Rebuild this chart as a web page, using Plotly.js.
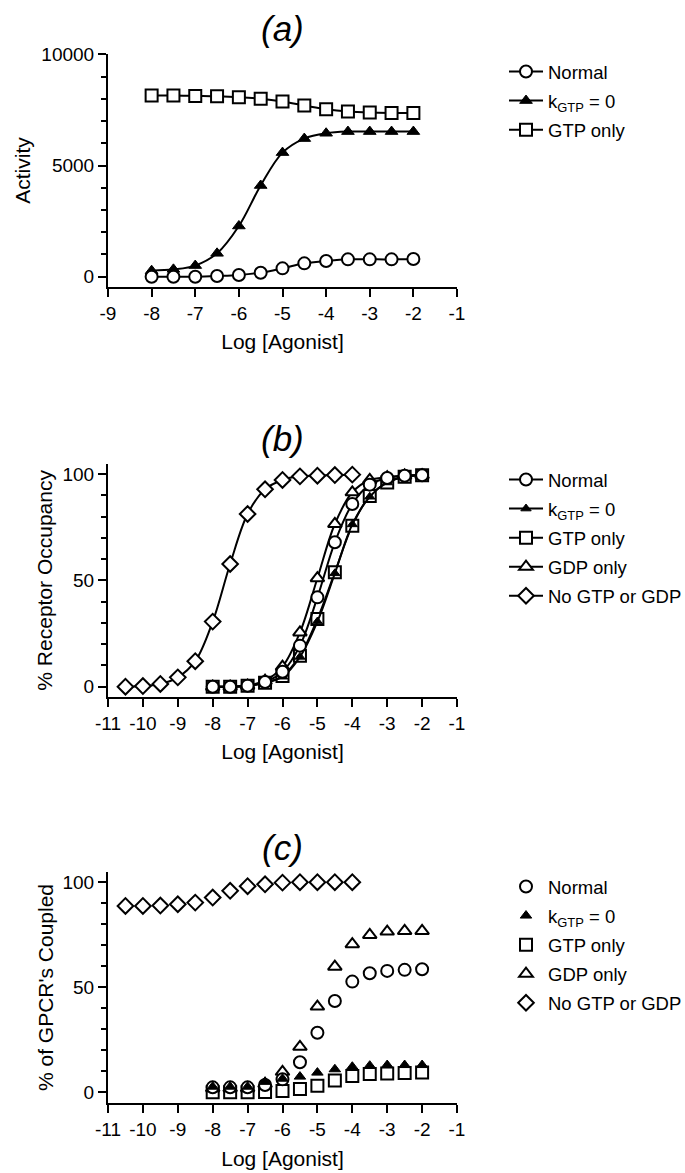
<!DOCTYPE html>
<html>
<head>
<meta charset="utf-8">
<script src="https://cdn.plot.ly/plotly-3.0.1.min.js"></script>
<style>html,body{margin:0;padding:0;background:#fff;}#chart{width:685px;height:1173px;}</style>
</head>
<body>
<div id="chart"></div>
<script>
// ---- Data ----
const xAgonist = [-8, -7.5, -7, -6.5, -6, -5.5, -5, -4.5, -4, -3.5, -3, -2.5, -2];
const xNoGtpGdp = [-10.5, -10, -9.5, -9, -8.5, -8, -7.5, -7, -6.5, -6, -5.5, -5, -4.5, -4];

// (a) Activity
const aNormal  = [0, 0, 0, 30, 75, 180, 375, 600, 705, 780, 780, 780, 795];
const aKgtp0   = [270, 330, 500, 1050, 2280, 4100, 5580, 6210, 6450, 6525, 6525, 6525, 6525];
const aGtpOnly = [8150, 8150, 8130, 8110, 8070, 8000, 7875, 7700, 7530, 7425, 7380, 7365, 7365];

// (b) % Receptor Occupancy
const bNormal  = [0, 0, 0.5, 2.2, 7, 19.3, 42, 67.9, 85.9, 95, 98.1, 99.2, 99.4];
const bKgtp0   = [0, 0, 0.4, 1.8, 4.7, 14, 30.6, 53.3, 76.3, 89.3, 96, 98.7, 99.4];
const bGtpOnly = [0, 0, 0.4, 1.9, 5, 14.6, 31.8, 53.8, 75.7, 89.7, 96, 98.7, 99.4];
const bGdpOnly = [0, 0, 0.5, 2.8, 9.4, 25.5, 51, 76.5, 91.4, 97.2, 98.5, 99.3, 99.5];
const bNone    = [0, 0.3, 1.3, 4.4, 12, 30.6, 57.7, 81.2, 92.8, 97.2, 98.9, 99.2, 99.5, 99.7];

// (c) % of GPCR's Coupled
const cNormal  = [2.4, 2.4, 2.4, 3.5, 6.2, 14.3, 28.4, 43.5, 52.7, 56.7, 57.8, 58.3, 58.6];
const cKgtp0   = [2.7, 2.7, 2.7, 5, 6.5, 7.5, 9.4, 11, 12.2, 12.7, 13, 13, 13];
const cGtpOnly = [0, 0, 0, 0.2, 0.6, 1.6, 3.2, 5.6, 7.8, 8.7, 9, 9.2, 9.4];
const cGdpOnly = [2, 2, 2, 4, 9.8, 21.7, 40.8, 59.8, 70.5, 74.9, 76.5, 76.8, 76.8];
const cNone    = [88.7, 88.7, 88.9, 89.5, 90.3, 92.7, 95.9, 98.1, 99, 99.8, 100, 100, 100, 100];

const names = ['Normal', 'k<sub>GTP</sub> = 0', 'GTP only', 'GDP only', 'No GTP or GDP'];
const xTicks = ['-11','-10','-9','-8','-7','-6','-5','-4','-3','-2','-1'];

// ---- Styles ----
const FONT = 'Arial, "Liberation Sans", sans-serif';
const W = 685, H = 1173;
const mk = {
  circle:   {symbol: 'circle', size: 12, color: '#fff', line: {color: '#000', width: 2}},
  tri:      {symbol: 'triangle-up', size: 11, color: '#000', line: {color: '#000', width: 1}},
  square:   {symbol: 'square', size: 12, color: '#fff', line: {color: '#000', width: 2}},
  triOpen:  {symbol: 'triangle-up', size: 12, color: '#fff', line: {color: '#000', width: 2}},
  diamond:  {symbol: 'diamond', size: 12, color: '#fff', line: {color: '#000', width: 2}}
};
const lineS = {color: '#000', width: 2, shape: 'spline', smoothing: 1};

function tr(x, y, name, marker, xa, ya, legend, rank, withLine) {
  return {
    x: x, y: y, name: name, xaxis: xa, yaxis: ya, legend: legend, legendrank: rank,
    legendgroup: legend + '_' + rank,
    mode: withLine ? 'lines+markers' : 'markers',
    line: lineS, marker: marker, cliponaxis: false
  };
}

const data = [
  // (a)
  tr(xAgonist, aGtpOnly, names[2], mk.square, 'x', 'y', 'legend', 3, true),
  tr(xAgonist, aKgtp0, names[1], mk.tri, 'x', 'y', 'legend', 2, true),
  tr(xAgonist, aNormal, names[0], mk.circle, 'x', 'y', 'legend', 1, true),
  // (b)
  tr(xNoGtpGdp, bNone, names[4], mk.diamond, 'x2', 'y2', 'legend2', 5, true),
  tr(xAgonist, bGtpOnly, names[2], mk.square, 'x2', 'y2', 'legend2', 3, true),
  tr(xAgonist, bKgtp0, names[1], Object.assign({}, mk.tri, {size: 9}), 'x2', 'y2', 'legend2', 2, true),
  tr(xAgonist, bGdpOnly, names[3], mk.triOpen, 'x2', 'y2', 'legend2', 4, true),
  tr(xAgonist, bNormal, names[0], mk.circle, 'x2', 'y2', 'legend2', 1, true),
  // (c)
  tr(xNoGtpGdp, cNone, names[4], mk.diamond, 'x3', 'y3', 'legend3', 5, false),
  tr(xAgonist, cGtpOnly, names[2], mk.square, 'x3', 'y3', 'legend3', 3, false),
  tr(xAgonist, cGdpOnly, names[3], mk.triOpen, 'x3', 'y3', 'legend3', 4, false),
  tr(xAgonist, cNormal, names[0], mk.circle, 'x3', 'y3', 'legend3', 1, false),
  tr(xAgonist, cKgtp0, names[1], Object.assign({}, mk.tri, {size: 10}), 'x3', 'y3', 'legend3', 2, false)
];

const xDom = [108 / W, 457 / W];
function yDom(top, bottom) { return [1 - bottom / H, 1 - top / H]; }
const TICKFONT = 19, TITLEFONT = 21;

function xAxis(range, anchor, ticks) {
  return {
    domain: xDom, range: range, anchor: anchor,
    tickmode: 'array', tickvals: ticks.map(Number), ticktext: ticks,
    ticks: 'outside', ticklen: 8, tickwidth: 2, tickcolor: '#000',
    showline: true, linewidth: 2, linecolor: '#000',
    showgrid: false, zeroline: false,
    tickfont: {family: FONT, size: TICKFONT, color: '#000'},
    title: {text: 'Log [Agonist]', font: {family: FONT, size: TITLEFONT, color: '#000'}, standoff: 12}
  };
}
function yAxis(dom, range, dtick, minor, anchor, title, standoff) {
  return {
    domain: dom, range: range, anchor: anchor, dtick: dtick, tick0: 0, tickformat: 'd',
    ticks: 'outside', ticklen: 8, tickwidth: 2, tickcolor: '#000',
    minor: {dtick: minor, ticks: 'outside', ticklen: 5, tickwidth: 2, tickcolor: '#000', showgrid: false},
    showline: true, linewidth: 2, linecolor: '#000',
    showgrid: false, zeroline: false,
    tickfont: {family: FONT, size: TICKFONT, color: '#000'},
    title: {text: title, font: {family: FONT, size: TITLEFONT, color: '#000'}, standoff: standoff}
  };
}
function legendCfg(top) {
  return {
    x: 504 / W, xanchor: 'left', y: 1 - top / H, yanchor: 'top',
    bgcolor: 'rgba(0,0,0,0)', borderwidth: 0,
    font: {family: FONT, size: 18.5, color: '#000'},
    itemwidth: 34, traceorder: 'grouped', tracegroupgap: 2
  };
}
function panelTitle(text, yc) {
  return {
    text: '<i>' + text + '</i>', xref: 'paper', yref: 'paper',
    x: 282.5 / W, y: 1 - yc / H, xanchor: 'center', yanchor: 'middle',
    showarrow: false, font: {family: FONT, size: 35, color: '#000'}
  };
}

const layout = {
  width: W, height: H,
  margin: {l: 0, r: 0, t: 0, b: 0, autoexpand: false},
  paper_bgcolor: '#fff', plot_bgcolor: '#fff',
  font: {family: FONT, color: '#000'},
  showlegend: true,
  xaxis: xAxis([-9, -1], 'y', xTicks.slice(2)),
  yaxis: yAxis(yDom(54.3, 286.7), [-450, 10000], 5000, 1000, 'x', 'Activity', 5),
  xaxis2: xAxis([-11, -1], 'y2', xTicks),
  yaxis2: yAxis(yDom(464, 696.7), [-4.7, 104.7], 50, 10, 'x2', '% Receptor Occupancy', 4),
  xaxis3: xAxis([-11, -1], 'y3', xTicks),
  yaxis3: yAxis(yDom(871.7, 1103.3), [-5.2, 105], 50, 10, 'x3', "% of GPCR's Coupled", 3),
  legend: legendCfg(53),
  legend2: legendCfg(461),
  legend3: legendCfg(868),
  annotations: [panelTitle('(a)', 28), panelTitle('(b)', 438), panelTitle('(c)', 847)]
};

Plotly.newPlot('chart', data, layout, {displayModeBar: false, staticPlot: true});
</script>
</body>
</html>
